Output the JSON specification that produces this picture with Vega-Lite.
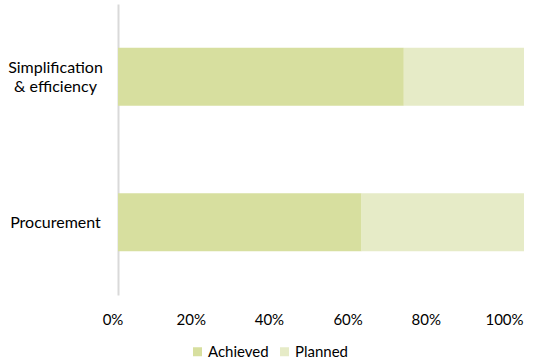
{
  "$schema": "https://vega.github.io/schema/vega-lite/v6.json",
  "autosize": "none",
  "width": 406,
  "height": 291,
  "padding": {"left": 118, "top": 4, "right": 20, "bottom": 65},
  "background": "white",
  "config": {
    "view": {"stroke": null},
    "font": "Lato",
    "axis": {"labelFont": "Lato", "labelFontSize": 15, "labelColor": "#000000"},
    "legend": {"labelFont": "Lato", "labelFontSize": 15, "labelColor": "#000000"}
  },
  "data": {
    "values": [
      {"category": "Simplification & efficiency", "status": "Achieved", "value": 0.704},
      {"category": "Simplification & efficiency", "status": "Planned", "value": 0.296},
      {"category": "Procurement", "status": "Achieved", "value": 0.60},
      {"category": "Procurement", "status": "Planned", "value": 0.40}
    ]
  },
  "mark": {"type": "bar"},
  "encoding": {
    "y": {
      "field": "category",
      "type": "nominal",
      "sort": ["Simplification & efficiency", "Procurement"],
      "scale": {"paddingInner": 0.6, "paddingOuter": 0.3},
      "axis": {
        "title": null,
        "ticks": false,
        "grid": false,
        "domainColor": "#D9D9D9",
        "domainWidth": 2,
        "labelAlign": "center",
        "labelPadding": 63,
        "labelFontSize": 16,
        "labelLineHeight": 19,
        "labelExpr": "datum.value == 'Simplification & efficiency' ? ['Simplification', '& efficiency'] : datum.value",
        "labelOffset": {"condition": {"test": "datum.value == 'Simplification & efficiency'", "value": -9}, "value": 1}
      }
    },
    "x": {
      "field": "value",
      "type": "quantitative",
      "stack": "zero",
      "scale": {"domain": [0, 1]},
      "axis": {
        "title": null,
        "format": "%",
        "values": [0, 0.2, 0.4, 0.6, 0.8, 1],
        "domain": false,
        "ticks": false,
        "grid": false,
        "labelFlush": false,
        "labelPadding": 17,
        "labelOffset": {
          "condition": [
            {"test": "datum.value == 0", "value": -5.5},
            {"test": "datum.value == 0.2", "value": -8.5},
            {"test": "datum.value == 0.4", "value": -11.5},
            {"test": "datum.value == 0.6", "value": -14},
            {"test": "datum.value == 0.8", "value": -17}
          ],
          "value": -20
        }
      }
    },
    "color": {
      "field": "status",
      "type": "nominal",
      "scale": {"domain": ["Achieved", "Planned"], "range": ["#D7DF9F", "#E6EBC7"]},
      "legend": {
        "title": null,
        "orient": "none",
        "direction": "horizontal",
        "legendX": 72,
        "legendY": 340,
        "symbolType": "square",
        "symbolSize": 81,
        "symbolStrokeWidth": 0,
        "columnPadding": 8,
        "labelOffset": 3
      }
    }
  }
}
